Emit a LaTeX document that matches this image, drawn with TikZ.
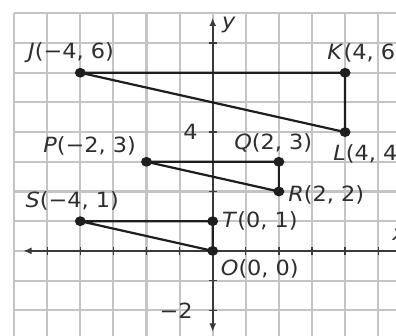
\documentclass[tikz,border=0pt]{standalone}
\usepackage{fontspec}
\setmainfont{DejaVu Sans}[FakeStretch=1.07]
\usepackage{xcolor}
\usepackage{tikz}
\usetikzlibrary{arrows.meta,positioning,calc}
\definecolor{cInk}{HTML}{1E1E1E}
\definecolor{cAxis}{HTML}{3A3A3A}
\definecolor{cGrid}{HTML}{C4C4C4}
\definecolor{cText}{HTML}{2E2E2E}
\tikzset{
  gridln/.style={draw=cGrid,line width=1.8pt},
  axisln/.style={{Latex[length=7pt,width=6pt]}-{Latex[length=7pt,width=6pt]},line width=1.4pt,color=cAxis},
  tick/.style={line width=1.1pt,color=cAxis},
  seg/.style={line width=1.9pt,color=cInk},
  dot/.style={fill=cInk},
  lbl/.style={font=\fontsize{18}{20}\selectfont,text=cText,inner sep=0pt},
}

\begin{document}
\begin{tikzpicture}[x=1cm,y=0.897cm]
    \useasboundingbox (-6.426,-2.862) rectangle (5.538,8.45);
    \clip (-6.426,-2.862) rectangle (5.538,8.45);
    % grid
    \foreach \x in {-6,...,6}{\draw[gridln] (\x,-3) -- (\x,8);}
    \foreach \y in {-3,...,8}{\draw[gridln] (-6,\y) -- (6.5,\y);}
    % axes
    \coordinate (xl) at (-5.72,0);
    \coordinate (xr) at (5.8,0);
    \coordinate (yb) at (0,-2.72);
    \coordinate (yt) at (0,7.85);
    \draw[axisln] (xl) -- (xr);
    \draw[axisln] (yb) -- (yt);
    \foreach \x in {-5,...,5}{\draw[tick] (\x,-0.13) -- (\x,0.13);}
    \foreach \y in {-2,...,7}{\draw[tick] (-0.12,\y) -- (0.12,\y);}
    \node[lbl,anchor=west] (ylab) at (0.28,7.62) {\textit{y}};
    \node[lbl,anchor=west] (xlab) at (5.42,0.55) {\textit{x}};
    \node[lbl,anchor=east] (t4) at (-0.45,4) {4};
    \node[lbl,anchor=east] (tm2) at (-0.6,-2.02) {−2};
    % points
    \coordinate (J) at (-4,6);
    \coordinate (K) at (4,6);
    \coordinate (L) at (4,4);
    \coordinate (P) at (-2,3);
    \coordinate (Q) at (2,3);
    \coordinate (R) at (2,2);
    \coordinate (S) at (-4,1);
    \coordinate (T) at (0,1);
    \coordinate (O) at (0,0);
    \draw[seg] (J) -- (K) -- (L) -- (J);
    \draw[seg] (P) -- (Q) -- (R) -- (P);
    \draw[seg] (S) -- (T) -- (O) -- (S);
    \foreach \p in {J,K,L,P,Q,R,S,T,O}{\fill[dot] (\p) circle (0.165);}
    % labels
    \node[lbl] (labJ) at (-4.28,6.68) {\textit{J}(−4, 6)};
    \node[lbl,anchor=west] (labK) at (3.46,6.68) {\textit{K}(4, 6)};
    \node[lbl,anchor=west] (labL) at (3.64,3.25) {\textit{L}(4, 4)};
    \node[lbl] (labP) at (-3.72,3.55) {\textit{P}(−2, 3)};
    \node[lbl] (labQ) at (1.83,3.62) {\textit{Q}(2, 3)};
    \node[lbl,anchor=west] (labR) at (2.28,1.9) {\textit{R}(2, 2)};
    \node[lbl] (labS) at (-4.24,1.68) {\textit{S}(−4, 1)};
    \node[lbl,anchor=west] (labT) at (0.28,1.0) {\textit{T}(0, 1)};
    \node[lbl,anchor=west] (labO) at (0.24,-0.6) {\textit{O}(0, 0)};
  \end{tikzpicture}
\end{document}
